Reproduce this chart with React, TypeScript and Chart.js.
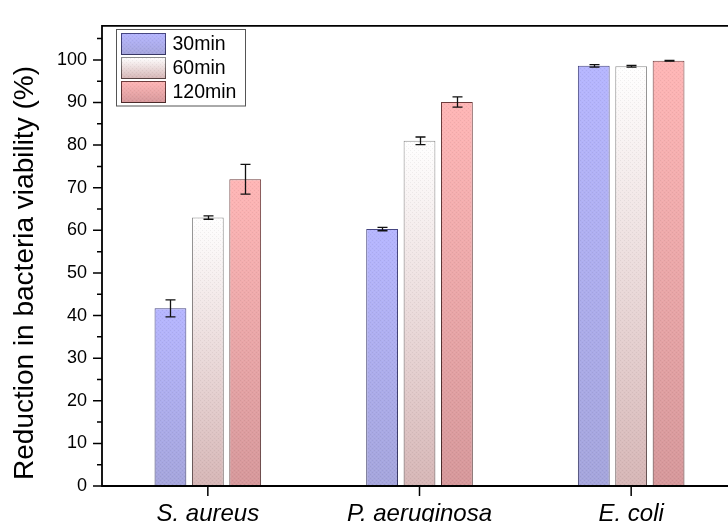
import React, { useEffect, useRef } from 'react';
import { Chart, registerables } from 'chart.js';

Chart.register(...registerables);

const categories = ['S. aureus', 'P. aeruginosa', 'E. coli'];
const seriesNames = ['30min', '60min', '120min'];
const values30 = [41.7, 60.3, 98.6];
const values60 = [63.0, 81.0, 98.5];
const values120 = [72.0, 90.1, 99.8];
const err30 = [2.0, 0.4, 0.3];
const err60 = [0.4, 0.9, 0.2];
const err120 = [3.5, 1.2, 0.1];
const yMajorTicks = [0, 10, 20, 30, 40, 50, 60, 70, 80, 90, 100];
const yMinorTicks = [5, 15, 25, 35, 45, 55, 65, 75, 85, 95, 105];
const yTitle = 'Reduction in bacteria viability (%)';

const FONT = "'Liberation Sans', Arial, sans-serif";
const CANVAS_W = 745;
const CANVAS_H = 540;

// fill gradient stops (top, bottom) and border colors per series
const fillStops = [
  ['rgb(182,182,255)', 'rgb(165,165,220)'],
  ['rgb(255,255,255)', 'rgb(214,182,182)'],
  ['rgb(255,182,182)', 'rgb(214,152,155)'],
];
const borderStops = [
  ['rgb(70,70,130)', 'rgb(55,55,100)'],
  ['rgb(140,140,140)', 'rgb(85,65,65)'],
  ['rgb(110,60,60)', 'rgb(75,42,42)'],
];

function makeGrad(ctx: CanvasRenderingContext2D, top: number, bottom: number, stops: string[]) {
  const g = ctx.createLinearGradient(0, top, 0, bottom);
  g.addColorStop(0, stops[0]);
  g.addColorStop(1, stops[1]);
  return g;
}

function barGradient(stopsArr: string[][], si: number) {
  return (c: any) => {
    const chart = c.chart;
    const ca = chart.chartArea;
    if (!ca || c.type !== 'data') return stopsArr[si][0];
    const ys = chart.scales.y;
    const v = c.raw as number;
    const top = ys.getPixelForValue(v);
    const bottom = ys.getPixelForValue(0);
    return makeGrad(chart.ctx, top, bottom, stopsArr[si]);
  };
}

function makePattern(): CanvasPattern | null {
  const c = document.createElement('canvas');
  c.width = 4;
  c.height = 4;
  const x = c.getContext('2d');
  if (!x) return null;
  x.fillStyle = 'rgba(0,0,0,0.05)';
  x.fillRect(0, 0, 1, 1);
  x.fillRect(2, 2, 1, 1);
  x.fillStyle = 'rgba(255,255,255,0.08)';
  x.fillRect(2, 0, 1, 1);
  x.fillRect(0, 2, 1, 1);
  return x.createPattern(c, 'repeat');
}

const errs = [err30, err60, err120];

const decorPlugin = {
  id: 'decor',
  afterDatasetsDraw(chart: any) {
    const ctx: CanvasRenderingContext2D = chart.ctx;
    const ys = chart.scales.y;
    const pattern = makePattern();
    chart.data.datasets.forEach((ds: any, di: number) => {
      const meta = chart.getDatasetMeta(di);
      meta.data.forEach((bar: any) => {
        const p = bar.getProps(['x', 'y', 'base', 'width'], true);
        if (pattern) {
          ctx.save();
          ctx.fillStyle = pattern;
          ctx.fillRect(p.x - p.width / 2 + 1, p.y + 1, p.width - 2, p.base - p.y - 1);
          ctx.restore();
        }
      });
    });
    ctx.save();
    ctx.strokeStyle = '#111';
    ctx.lineWidth = 1.3;
    chart.data.datasets.forEach((ds: any, di: number) => {
      const meta = chart.getDatasetMeta(di);
      meta.data.forEach((bar: any, i: number) => {
        const v = ds.data[i];
        const e = errs[di][i];
        const x = Math.round(bar.x) + 0.5;
        const yt = ys.getPixelForValue(v + e);
        const yb = ys.getPixelForValue(v - e);
        ctx.beginPath();
        ctx.moveTo(x, yt);
        ctx.lineTo(x, yb);
        ctx.moveTo(x - 5, yt);
        ctx.lineTo(x + 5, yt);
        ctx.moveTo(x - 5, yb);
        ctx.lineTo(x + 5, yb);
        ctx.stroke();
      });
    });
    ctx.restore();
  },
  afterDraw(chart: any) {
    const ctx: CanvasRenderingContext2D = chart.ctx;
    const ca = chart.chartArea;
    const ys = chart.scales.y;
    const xs = chart.scales.x;
    ctx.save();
    ctx.strokeStyle = '#000';
    ctx.lineWidth = 1.8;
    ctx.beginPath();
    ctx.moveTo(ca.left, ca.top);
    ctx.lineTo(ca.left, ca.bottom);
    ctx.moveTo(ca.left - 0.9, ca.bottom);
    ctx.lineTo(ca.right, ca.bottom);
    ctx.moveTo(ca.left - 0.9, ca.top);
    ctx.lineTo(ca.right, ca.top);
    ctx.lineTo(ca.right, ca.bottom);
    ctx.stroke();
    ctx.lineWidth = 1.5;
    ctx.beginPath();
    yMajorTicks.forEach((v) => {
      const y = ys.getPixelForValue(v);
      ctx.moveTo(ca.left, y);
      ctx.lineTo(ca.left - 9, y);
    });
    yMinorTicks.forEach((v) => {
      const y = ys.getPixelForValue(v);
      ctx.moveTo(ca.left, y);
      ctx.lineTo(ca.left - 5, y);
    });
    categories.forEach((_, i) => {
      const x = xs.getPixelForValue(i);
      ctx.moveTo(x, ca.bottom);
      ctx.lineTo(x, ca.bottom + 10);
    });
    ctx.stroke();

    // y axis title
    ctx.save();
    ctx.fillStyle = '#000';
    ctx.font = `28px ${FONT}`;
    ctx.textAlign = 'center';
    ctx.textBaseline = 'alphabetic';
    ctx.translate(33, 273);
    ctx.rotate(-Math.PI / 2);
    ctx.fillText(yTitle, 0, 0);
    ctx.restore();

    // legend
    const lx = 116.5, ly = 29.5, lw = 129, lh = 76.5;
    ctx.fillStyle = '#fff';
    ctx.fillRect(lx, ly, lw, lh);
    ctx.strokeStyle = '#555';
    ctx.lineWidth = 1;
    ctx.strokeRect(lx, ly, lw, lh);
    const rowTops = [33.5, 57.5, 81.5];
    ctx.font = `19.5px ${FONT}`;
    ctx.textBaseline = 'middle';
    ctx.textAlign = 'left';
    seriesNames.forEach((name, i) => {
      const sx = 121.5, sy = rowTops[i], sw = 44, sh = 21;
      ctx.fillStyle = makeGrad(ctx, sy, sy + sh, fillStops[i]);
      ctx.fillRect(sx, sy, sw, sh);
      const pat = makePattern();
      if (pat) {
        ctx.fillStyle = pat;
        ctx.fillRect(sx, sy, sw, sh);
      }
      ctx.strokeStyle = makeGrad(ctx, sy, sy + sh, borderStops[i]);
      ctx.strokeRect(sx, sy, sw, sh);
      ctx.fillStyle = '#000';
      ctx.fillText(name, 172.5, sy + sh / 2 + 1);
    });
    ctx.restore();
  },
};

export default function App() {
  const ref = useRef<HTMLCanvasElement | null>(null);
  useEffect(() => {
    if (!ref.current) return;
    const datasets = [values30, values60, values120].map((vals, si) => ({
      label: seriesNames[si],
      data: vals,
      backgroundColor: barGradient(fillStops, si),
      borderColor: barGradient(borderStops, si),
      borderWidth: 1,
      borderSkipped: false,
      categoryPercentage: 0.53,
      barPercentage: 0.85,
    }));
    const chart = new Chart(ref.current, {
      type: 'bar',
      data: { labels: categories, datasets },
      plugins: [decorPlugin],
      options: {
        responsive: false,
        animation: false,
        layout: { padding: { left: 0, right: 8, top: 15.7, bottom: 0 } },
        plugins: { legend: { display: false }, tooltip: { enabled: false } },
        scales: {
          x: {
            grid: { display: false, drawTicks: false },
            border: { display: false },
            ticks: {
              color: '#000',
              padding: 14,
              font: { family: FONT, size: 24, style: 'italic' },
            },
            afterFit: (axis: any) => {
              axis.height = CANVAS_H - 486;
            },
          },
          y: {
            min: 0,
            max: 108,
            grid: { display: false, drawTicks: false },
            border: { display: false },
            afterBuildTicks: (axis: any) => {
              axis.ticks = yMajorTicks.map((v) => ({ value: v }));
            },
            ticks: {
              color: '#000',
              padding: 15,
              font: { family: FONT, size: 18 },
            },
            afterFit: (axis: any) => {
              axis.width = 102;
            },
          },
        },
      },
    });
    return () => chart.destroy();
  }, []);
  return (
    <div style={{ position: 'absolute', left: 0, top: 0, width: 728, height: 522, overflow: 'hidden', background: '#fff' }}>
      <canvas ref={ref} width={CANVAS_W} height={CANVAS_H} style={{ width: CANVAS_W, height: CANVAS_H, display: 'block' }} />
    </div>
  );
}
